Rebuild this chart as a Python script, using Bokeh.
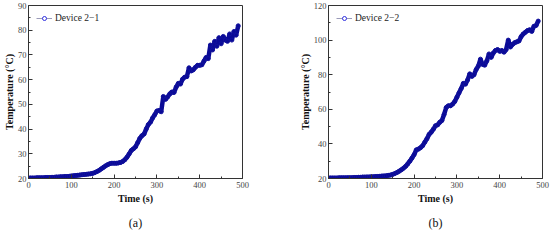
from bokeh.plotting import figure
from bokeh.layouts import row
from bokeh.models import (Range1d, Legend, LegendItem, Title, FixedTicker, ColumnDataSource)
from bokeh.embed import file_html
from bokeh.resources import INLINE

time_s = [0, 5, 10, 15, 20, 25, 30, 35, 40, 45, 50, 55, 60, 65, 70, 75, 80, 85, 90, 95,
          100, 105, 110, 115, 120, 125, 130, 135, 140, 145, 150, 155, 160, 165, 170, 175,
          180, 185, 190, 195, 200, 205, 210, 215, 220, 225, 230, 235, 240, 245, 250, 255,
          260, 265, 270, 275, 280, 285, 290, 295, 300, 305, 310, 315, 320, 325, 330, 335,
          340, 345, 350, 355, 360, 365, 370, 375, 380, 385, 390, 395, 400, 405, 410, 415,
          420, 425, 430, 435, 440, 445, 450, 455, 460, 465, 470, 475, 480, 485, 490]

temp_21 = [20.2, 20.2, 20.2, 20.2, 20.3, 20.3, 20.3, 20.3, 20.4, 20.4, 20.4, 20.5, 20.5, 20.6,
           20.6, 20.7, 20.7, 20.8, 20.8, 20.9, 21.0, 21.1, 21.2, 21.3, 21.4, 21.5, 21.6, 21.7,
           21.8, 21.9, 22.1, 22.4, 22.8, 23.3, 23.9, 24.5, 25.1, 25.6, 26.0, 26.2, 26.2, 26.2,
           26.3, 26.5, 26.9, 27.6, 28.6, 29.9, 31.3, 32.0, 32.8, 34.5, 36.2, 37.3, 38.0, 40.0,
           41.8, 42.8, 44.5, 45.8, 47.3, 47.5, 47.0, 53.2, 52.0, 53.0, 54.2, 55.0, 54.8, 57.0,
           58.5, 58.2, 60.2, 61.0, 61.2, 64.8, 63.5, 64.0, 65.0, 65.8, 65.8, 66.0, 67.5, 69.0,
           68.5, 74.0, 72.0, 75.5, 73.5, 77.0, 74.5, 77.5, 76.0, 75.5, 78.5, 76.0, 79.5, 78.0, 81.8]

temp_22 = [20.3, 20.3, 20.3, 20.3, 20.3, 20.4, 20.4, 20.4, 20.4, 20.5, 20.5, 20.5, 20.6, 20.6,
           20.7, 20.7, 20.8, 20.8, 20.9, 20.9, 21.0, 21.0, 21.1, 21.2, 21.3, 21.4, 21.5, 21.6,
           21.8, 22.0, 22.4, 22.9, 23.5, 24.2, 25.0, 25.9, 27.0, 28.4, 30.0, 31.8, 33.8, 36.5,
           37.0, 37.8, 39.0, 41.0, 43.0, 45.5, 46.8, 48.5, 50.5, 51.0, 52.5, 53.5, 57.0, 61.0,
           62.0, 62.0, 63.0, 64.5, 67.0, 69.5, 72.0, 75.0, 74.5, 77.0, 80.5, 79.0, 80.0, 83.0,
           85.0, 89.0, 86.0, 85.5, 88.0, 92.0, 90.0, 92.5, 94.0, 94.5, 93.5, 94.0, 93.0, 94.5,
           100.0, 96.0, 97.5, 98.5, 99.0, 99.5, 102.0, 103.5, 104.5, 105.5, 106.0, 105.0, 108.0,
           108.5, 111.0]

x_ticks = [0, 100, 200, 300, 400, 500]
y_ticks_a = [20, 30, 40, 50, 60, 70, 80, 90]
y_ticks_b = [20, 40, 60, 80, 100, 120]

SERIF = "Liberation Serif"
LINE_C = "#0a0a96"
MARK_C = "#12129e"
NAN = float("nan")


def panel(temps, label, tag, yr, yticks, yminor, bl, br, tag_offset):
    p = figure(width=275, height=241, output_backend="svg", toolbar_location=None,
               x_range=Range1d(0, 500), y_range=Range1d(*yr),
               min_border_left=bl, min_border_right=br, min_border_top=5,
               min_border_bottom=63)
    p.grid.visible = False
    p.outline_line_color = "#333333"
    p.outline_line_width = 1
    p.background_fill_color = "white"
    src = ColumnDataSource(dict(t=time_s, v=temps))
    p.line("t", "v", source=src, line_color=LINE_C, line_width=4.5)
    p.scatter("t", "v", source=src, marker="circle", size=4, line_color=MARK_C,
              fill_color=LINE_C, line_width=1)

    # legend-only renderers (no visible data)
    lg_src = ColumnDataSource(dict(t=[NAN], v=[NAN]))
    lg_line = p.line("t", "v", source=lg_src, line_color="#9a9ab8", line_width=1)
    lg_mark = p.scatter("t", "v", source=lg_src, marker="circle", size=4,
                        line_color="#3030e0", fill_color="white", line_width=1)
    leg = Legend(items=[LegendItem(label=label, renderers=[lg_line, lg_mark])],
                 location="top_left", border_line_color=None, background_fill_alpha=0,
                 label_text_font=SERIF, label_text_font_size="9.5px", glyph_width=16,
                 glyph_height=10, label_standoff=3, margin=8, padding=5,
                 label_text_color="#222222")
    p.add_layout(leg)

    p.xaxis.ticker = FixedTicker(ticks=x_ticks, minor_ticks=[50, 150, 250, 350, 450])
    p.yaxis.ticker = FixedTicker(ticks=yticks, minor_ticks=yminor)
    for ax in (p.xaxis[0], p.yaxis[0]):
        ax.major_tick_in = 4
        ax.major_tick_out = 0
        ax.minor_tick_in = 2
        ax.minor_tick_out = 0
        ax.axis_line_color = "#333333"
        ax.major_tick_line_color = "#333333"
        ax.minor_tick_line_color = "#333333"
        ax.major_label_text_font = SERIF
        ax.major_label_text_font_size = "8.5px"
        ax.major_label_text_color = "#444444"
        ax.axis_label_text_font = SERIF
        ax.axis_label_text_font_style = "bold"
        ax.axis_label_text_font_size = "10px"
        ax.axis_label_text_color = "#111111"
        ax.major_label_standoff = 3
        ax.axis_label_standoff = 2
    p.yaxis.axis_label_standoff = 0
    p.yaxis.major_label_standoff = 2
    p.xaxis.axis_label = "Time (s)"
    p.yaxis.axis_label = "Temperature (°C)"

    t = Title(text=tag, align="center", text_font=SERIF, text_font_size="12px",
              text_font_style="normal", text_color="#111111", standoff=19,
              vertical_align="top", offset=tag_offset)
    p.add_layout(t, "below")
    return p


pa = panel(temp_21, "Device 2\u22121", "(a)", (20, 90), y_ticks_a,
           [25, 35, 45, 55, 65, 75, 85], 27, 33, -9)
pb = panel(temp_22, "Device 2\u22122", "(b)", (20, 120), y_ticks_b,
           [30, 50, 70, 90, 110], 53, 8, -7)

lay = row(pa, pb)
open("out.html", "w").write(file_html(lay, INLINE))
